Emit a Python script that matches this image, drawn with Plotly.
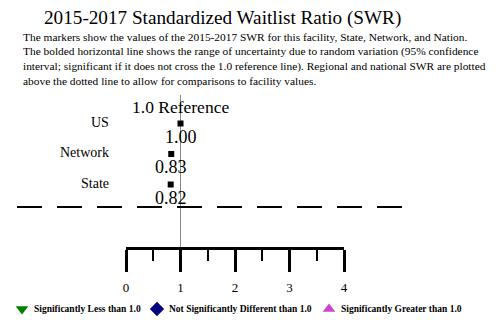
import plotly.graph_objects as go

# chart text
title_text = "2015-2017 Standardized Waitlist Ratio (SWR)"
note_lines = [
    "The markers show the values of the 2015-2017 SWR for this facility, State, Network, and Nation.",
    "The bolded horizontal line shows the range of uncertainty due to random variation (95% confidence",
    "interval; significant if it does not cross the 1.0 reference line). Regional and national SWR are plotted",
    "above the dotted line to allow for comparisons to facility values.",
]

# data
regions = ["US", "Network", "State"]
swr_values = [1.00, 0.83, 0.82]
reference_value = 1.0
tick_values = [0, 1, 2, 3, 4]

legend_labels = [
    "Significantly Less than 1.0",
    "Not Significantly Different than 1.0",
    "Significantly Greater than 1.0",
]
legend_symbols = ["triangle-down", "diamond", "triangle-up"]
legend_colors = ["#008000", "#000080", "#cc44cc"]

W, H = 502, 320
OFF = 8  # page body margin
SERIF = "Liberation Serif"

# layout helpers (pixel space of the window)
axis_left, axis_right = 126, 344
axis_y = 248
row_top, row_step = 123.5, 30.5
legend_x = [22, 157, 329]
legend_y = 309


def build_figure():
    fig = go.Figure()
    row_y = [row_top + i * row_step for i in range(len(regions))]

    # value markers on the visible 0-4 scale
    fig.add_trace(go.Scatter(
        x=swr_values, y=row_y, xaxis="x2", yaxis="y",
        mode="markers",
        marker=dict(symbol="square", size=6, color="black"),
        showlegend=False, hoverinfo="skip",
    ))

    # legend glyphs
    for lx, sym, col in zip(legend_x, legend_symbols, legend_colors):
        fig.add_trace(go.Scatter(
            x=[lx], y=[legend_y], xaxis="x", yaxis="y",
            mode="markers",
            marker=dict(symbol=sym, size=11, color=col),
            showlegend=False, hoverinfo="skip",
        ))

    # reference line
    fig.add_shape(type="line", xref="x2", yref="y",
                  x0=reference_value, x1=reference_value, y0=95, y1=axis_y,
                  line=dict(color="#888888", width=1), layer="below")
    # dotted separator
    fig.add_shape(type="line", xref="x", yref="y",
                  x0=17, x1=402, y0=207, y1=207,
                  line=dict(color="black", width=2, dash="25px,15px"))

    ann = []
    ann.append(dict(x=222, y=18, xref="x", yref="y", text=title_text,
                    showarrow=False, borderpad=0,
                    font=dict(family=SERIF, size=19.2, color="black")))
    for i, line in enumerate(note_lines):
        ann.append(dict(x=22, y=36.5 + i * 14.8, xref="x", yref="y", text=line,
                        xanchor="left", xshift=-1, showarrow=False,
                        font=dict(family=SERIF, size=11.4, color="black")))
    ann.append(dict(x=reference_value, y=107, xref="x2", yref="y",
                    text="1.0 Reference", showarrow=False,
                    font=dict(family=SERIF, size=17.5, color="black")))
    for name, val, ry in zip(regions, swr_values, row_y):
        ann.append(dict(x=111, y=ry - 1.5, xref="x", yref="y", text=name,
                        xanchor="right", showarrow=False,
                        font=dict(family=SERIF, size=14, color="black")))
        ann.append(dict(x=val, y=ry + 13, xref="x2", yref="y", text=f"{val:.2f}",
                        showarrow=False,
                        font=dict(family=SERIF, size=18, color="black")))
    for lx, label in zip(legend_x, legend_labels):
        ann.append(dict(x=lx + 10, y=legend_y, xref="x", yref="y", text=label,
                        xanchor="left", showarrow=False,
                        font=dict(family=SERIF, size=9.5, color="black", weight="bold")))

    fw, fh = W - OFF, H - OFF
    fig.update_layout(
        width=fw, height=fh,
        margin=dict(l=0, r=0, t=0, b=0, autoexpand=False),
        paper_bgcolor="white", plot_bgcolor="rgba(0,0,0,0)",
        annotations=ann,
        xaxis=dict(range=[OFF, W], domain=[0, 1], visible=False, fixedrange=True),
        yaxis=dict(range=[H, OFF], domain=[0, 1], visible=False, fixedrange=True),
        xaxis2=dict(
            anchor="free", position=(H - axis_y) / fh,
            domain=[(axis_left - OFF) / fw, (axis_right - OFF) / fw],
            range=[tick_values[0], tick_values[-1]],
            tickvals=tick_values, ticks="outside", ticklen=22, tickwidth=2.5,
            tickcolor="black", showline=True, linecolor="black", linewidth=2.5,
            showgrid=False, zeroline=False, automargin=False,
            ticklabelstandoff=5,
            minor=dict(dtick=0.5, tick0=0, ticks="outside", ticklen=11,
                       tickwidth=2, tickcolor="black", showgrid=False),
            tickfont=dict(family=SERIF, size=13, color="black"),
            fixedrange=True,
        ),
        showlegend=False,
    )
    return fig


def main():
    fig = build_figure()
    fig.write_html("out.html")


if __name__ == "__main__":
    main()
